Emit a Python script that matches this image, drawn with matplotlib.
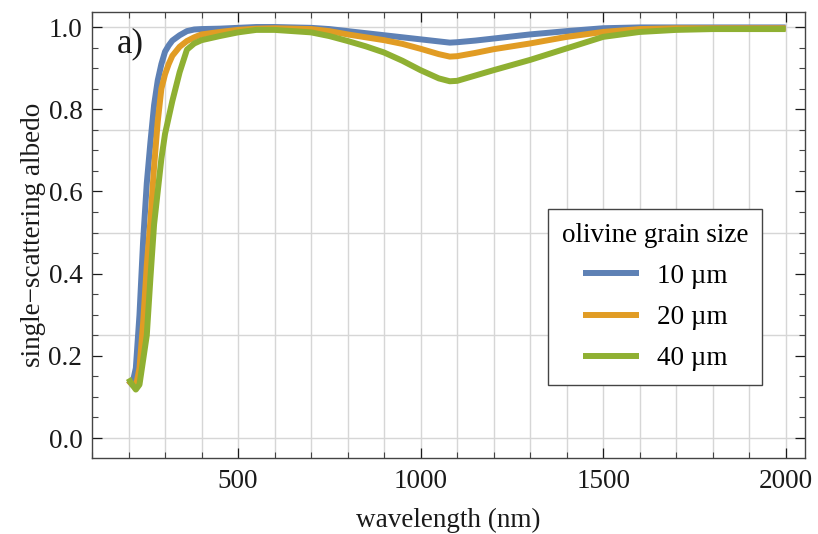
import numpy as np
import matplotlib.pyplot as plt
from matplotlib.ticker import MultipleLocator, FormatStrFormatter

plt.rcParams['font.family'] = ['Liberation Serif', 'DejaVu Serif']

# wavelength grid (nm) shared by the three curves
wavelength = [200, 210, 220, 230, 240, 250, 260, 270, 280, 290, 300, 310, 320, 340, 360,
              380, 400, 450, 500, 550, 600, 650, 700, 750, 800, 850, 900, 950, 1000,
              1050, 1080, 1100, 1150, 1200, 1300, 1400, 1500, 1600, 1700, 1800, 1900, 2000]

albedo_10um = [0.14, 0.13, 0.17, 0.30, 0.48, 0.62, 0.72, 0.81, 0.87, 0.91, 0.94, 0.955, 0.967,
               0.98, 0.99, 0.994, 0.995, 0.996, 0.998, 1.0, 1.0, 0.999, 0.998, 0.995, 0.99,
               0.985, 0.98, 0.975, 0.970, 0.965, 0.962, 0.963, 0.967, 0.972, 0.982, 0.990,
               0.997, 0.999, 0.999, 0.999, 0.999, 0.999]

albedo_20um = [0.14, 0.13, 0.125, 0.17, 0.28, 0.42, 0.53, 0.66, 0.77, 0.85, 0.885, 0.91, 0.93,
               0.952, 0.966, 0.975, 0.982, 0.988, 0.993, 0.996, 0.997, 0.996, 0.995, 0.99,
               0.982, 0.975, 0.968, 0.959, 0.947, 0.934, 0.928, 0.929, 0.937, 0.946, 0.960,
               0.976, 0.988, 0.995, 0.997, 0.997, 0.997, 0.997]

albedo_40um = [0.145, 0.13, 0.118, 0.13, 0.19, 0.25, 0.39, 0.52, 0.60, 0.68, 0.74, 0.78, 0.82,
               0.89, 0.945, 0.96, 0.968, 0.978, 0.987, 0.993, 0.993, 0.99, 0.987, 0.978,
               0.966, 0.953, 0.938, 0.918, 0.895, 0.875, 0.868, 0.869, 0.882, 0.895, 0.920,
               0.948, 0.976, 0.988, 0.993, 0.995, 0.995, 0.995]

labels = ['10 \u00b5m', '20 \u00b5m', '40 \u00b5m']
colors = ['#5E81B5', '#E19C24', '#8FB032']

fig = plt.figure(figsize=(8.18, 5.34), dpi=100)
ax = fig.add_axes([0.1125, 0.142, 0.8716, 0.8355])

# background grid: every 100 nm vertically, every 0.25 horizontally
for g in np.arange(200, 2001, 100):
    ax.axvline(g, color='#d6d6d6', lw=1.0, zorder=0)
for g in np.arange(0, 1.01, 0.25):
    ax.axhline(g, color='#d6d6d6', lw=1.0, zorder=0)

for ys, lab, c in zip([albedo_10um, albedo_20um, albedo_40um], labels, colors):
    ax.plot(wavelength, ys, color=c, lw=4.3, label=lab, solid_capstyle='butt',
            solid_joinstyle='round')

ax.set_xlim(100, 2053)
ax.set_ylim(-0.049, 1.0365)

ax.xaxis.set_major_locator(MultipleLocator(500))
ax.xaxis.set_minor_locator(MultipleLocator(100))
ax.yaxis.set_major_locator(MultipleLocator(0.2))
ax.yaxis.set_minor_locator(MultipleLocator(0.05))
ax.yaxis.set_major_formatter(FormatStrFormatter('%.1f'))

ax.tick_params(which='both', direction='in', top=True, right=True, color='#444444')
ax.tick_params(which='major', length=7, width=0.9, labelsize=19.5, colors='#1a1a1a')
ax.tick_params(which='minor', length=4, width=0.8)
ax.tick_params(axis='x', which='major', pad=8)
ax.tick_params(axis='y', which='major', pad=7)
for s in ax.spines.values():
    s.set_color('#444444')
    s.set_linewidth(1.0)

ax.set_xlabel('wavelength (nm)', fontsize=19.5, color='#1a1a1a', labelpad=10)
ax.set_ylabel('single\u2212scattering albedo', fontsize=19.5, color='#1a1a1a', labelpad=2)

ax.text(0.035, 0.965, 'a)', transform=ax.transAxes, fontsize=25, va='top', ha='left',
        color='#1a1a1a')

leg = ax.legend(title='olivine grain size', loc='lower left', bbox_to_anchor=(0.64, 0.164),
                borderaxespad=0, fontsize=19.5, title_fontsize=19.5, frameon=True,
                fancybox=False, framealpha=1, edgecolor='#444444', handlelength=2.1,
                handletextpad=0.65, borderpad=0.5, labelspacing=0.6)
leg.get_frame().set_linewidth(1.0)

fig.savefig('out.png', dpi=100)
